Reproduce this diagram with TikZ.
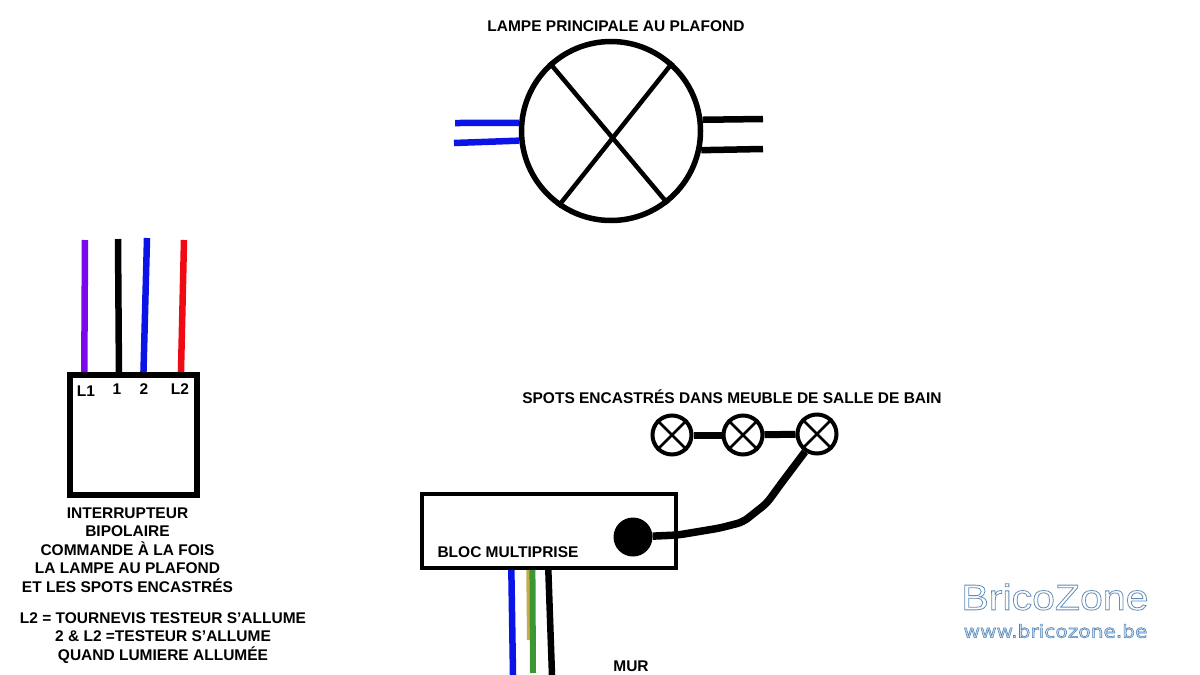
\documentclass[tikz,border=0pt]{standalone}
\usepackage{fontspec}
\setmainfont{Liberation Sans}
\newfontfamily\brandfont[FakeBold=2.2,FakeStretch=1.14]{Liberation Sans}
\newfontfamily\urlfont[FakeBold=3,FakeStretch=1.12]{DejaVu Sans}
\definecolor{wireblue}{HTML}{0A14E6}
\definecolor{wirepurple}{HTML}{7A08EE}
\definecolor{wirered}{HTML}{F00A14}
\definecolor{wiregreen}{HTML}{3C9632}
\definecolor{wiretan}{HTML}{C8AA50}
\begin{document}
\begin{tikzpicture}[x=1pt,y=-1pt]

\tikzset{txt/.style={font=\fontsize{15.5}{18.5}\selectfont\bfseries,inner sep=0pt,align=center},}
\tikzset{lampe/.style={circle,draw,line width=5.5pt,inner sep=0pt,minimum size=179pt},}
\tikzset{spot/.style={circle,draw,line width=4pt,inner sep=0pt,minimum size=39pt},}
\tikzset{boite/.style={rectangle,draw,inner sep=0pt},}
\tikzset{fil/.style={line width=6.5pt},}
\tikzset{croix/.style={line width=4.5pt},}
\tikzset{brand/.style={inner sep=0pt,text=white},}

\useasboundingbox (0,0) rectangle (1200,675);

	\draw
		(616,26) node[txt] (tlampe) {LAMPE PRINCIPALE AU PLAFOND}
		(611,131) node[lampe] (lamp) {}
		(732,397) node[txt] (tspots) {SPOTS ENCASTRÉS DANS MEUBLE DE SALLE DE BAIN}
		(672,435) node[spot] (s1) {}
		(743,435) node[spot] (s2) {}
		(817,434) node[spot] (s3) {}
		(133.5,435) node[boite,line width=6pt,minimum width=127pt,minimum height=120pt] (inter) {}
		(86,391) node[txt] (l1) {L1}
		(117,389) node[txt] (n1) {1}
		(144,389) node[txt] (n2) {2}
		(180,389) node[txt] (l2) {L2}
		(127.5,550) node[txt] (tinter) {INTERRUPTEUR\\BIPOLAIRE\\COMMANDE À LA FOIS\\LA LAMPE AU PLAFOND\\ET LES SPOTS ENCASTRÉS}
		(163,638) node[txt] (ttest) {L2 = TOURNEVIS TESTEUR S’ALLUME\\2 \& L2 =TESTEUR S’ALLUME\\QUAND LUMIERE ALLUMÉE}
		(549,531) node[boite,line width=4pt,minimum width=254pt,minimum height=74pt] (bloc) {}
		(508,552) node[txt] (tbloc) {BLOC MULTIPRISE}
		(633,537) node[circle,fill=black,inner sep=0pt,minimum size=39pt] (prise) {}
		(631,666) node[txt] (tmur) {MUR}
		(1055,597) node[brand,font=\brandfont\fontsize{36}{36}\selectfont] (logo) {\special{pdf: code q 1 1 1 rg 0.38 0.55 0.72 RG}BricoZone\special{pdf: code Q}}
		(1055.5,631) node[brand,font=\urlfont\fontsize{18}{18}\selectfont] (site) {\special{pdf: code q 0.78 0.87 0.95 rg 0.3 0.5 0.7 RG}www.bricozone.be\special{pdf: code Q}};

	% lampe
	\draw[croix](lamp.132) -- (lamp.-52);
	\draw[croix](lamp.48) -- (lamp.-125);

	\coordinate (b1) at (455,123);
	\coordinate (b2) at (454,143);
	\coordinate (n3) at (763,119);
	\coordinate (n4) at (763,149);
	\draw[fil,wireblue](b1) -- (lamp.175);
	\draw[fil,wireblue](b2) -- (lamp.186);
	\draw[fil](lamp.7) -- (n3);
	\draw[fil](lamp.-12) -- (n4);

	% spots
	\foreach \s in {s1,s2,s3}{
		\draw[line width=2.5pt](\s.45) -- (\s.225);
		\draw[line width=2.5pt](\s.135) -- (\s.-45);
	}
	\draw[fil,line width=7pt](s1) -- (s2);
	\draw[fil,line width=7pt](s2) -- (s3);

	\coordinate (c1) at (678,535);
	\coordinate (c2) at (720,528);
	\coordinate (c3) at (743,522);
	\coordinate (c4) at (767,503);
	\coordinate (c5) at (780,485);
	\draw[fil,line width=7.5pt,line join=round,rounded corners=6pt](prise) -- (c1) -- (c2) -- (c3) -- (c4) -- (c5) -- (s3.236);

	% interrupteur
	\coordinate (f1) at (85,240);
	\coordinate (f2) at (118,239);
	\coordinate (f3) at (147,238);
	\coordinate (f4) at (184,240);
	\draw[fil,wirepurple](f1) -- (inter.128);
	\draw[fil](f2) -- (inter.103);
	\draw[fil,wireblue](f3) -- (inter.81);
	\draw[fil,wirered](f4) -- (inter.53);

	% mur
	\coordinate (m1) at (513,675);
	\coordinate (m2) at (533,673);
	\coordinate (m3) at (529,640);
	\coordinate (m4) at (552,675);
	\draw[fil,wireblue](bloc.-134) -- (m1);
	\draw[line width=4pt,wiretan](bloc.-118) -- (m3);
	\draw[line width=6pt,wiregreen](bloc.-113) -- (m2);
	\draw[fil](bloc.-91) -- (m4);

\end{tikzpicture}
\end{document}
